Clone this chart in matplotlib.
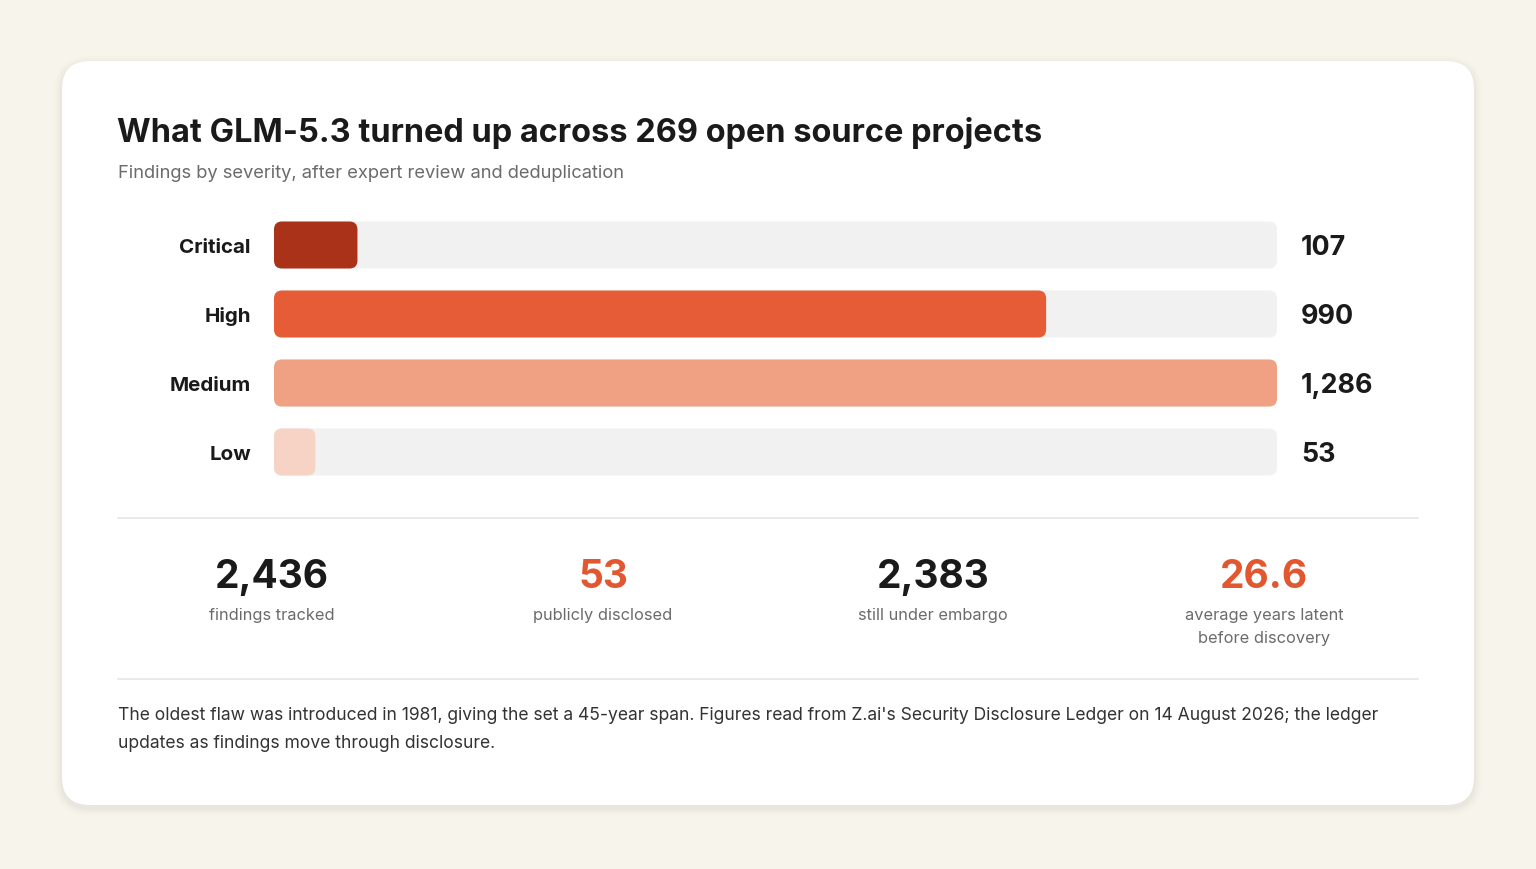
import matplotlib
matplotlib.use("Agg")
import matplotlib.pyplot as plt
from matplotlib.patches import FancyBboxPatch

plt.rcParams['font.family'] = ['Inter', 'DejaVu Sans']

# data
categories = ["Critical", "High", "Medium", "Low"]
counts = [107, 990, 1286, 53]
bar_colors = ["#a93218", "#e65c36", "#f0a184", "#f7d3c6"]

stat_values = ["2,436", "53", "2,383", "26.6"]
stat_labels = [["findings tracked"], ["publicly disclosed"], ["still under embargo"],
               ["average years latent", "before discovery"]]
stat_colors = ["#1a1a1a", "#e2572f", "#1a1a1a", "#e2572f"]

title = "What GLM-5.3 turned up across 269 open source projects"
subtitle = "Findings by severity, after expert review and deduplication"
footnote = ["The oldest flaw was introduced in 1981, giving the set a 45-year span. Figures read from "
            "Z.ai's Security Disclosure Ledger on 14 August 2026; the ledger",
            "updates as findings move through disclosure."]

W, H = 1536, 870
fig = plt.figure(figsize=(W / 100, H / 100), dpi=100)
fig.patch.set_facecolor("#f7f4ec")

# background axes in pixel coords (y down)
bg = fig.add_axes([0, 0, 1, 1])
bg.set_xlim(0, W)
bg.set_ylim(H, 0)
bg.axis("off")

# soft shadow + card
for i, a in enumerate([0.018, 0.014, 0.010, 0.007]):
    g = 2 + i * 2
    bg.add_patch(FancyBboxPatch((62 - g, 62 - g + 3), 1412 + 2 * g, 744 + 2 * g,
                                boxstyle="round,pad=0,rounding_size=%d" % (28 + g),
                                fc="#000000", ec="none", alpha=a))
bg.add_patch(FancyBboxPatch((62, 62), 1412, 744, boxstyle="round,pad=0,rounding_size=28",
                            fc="white", ec="none"))

bg.text(117, 133, title, fontsize=23.4, fontweight="bold", color="#1a1a1a", va="center", ha="left")
bg.text(118, 174, subtitle, fontsize=13.2, color="#6b6b6b", va="center", ha="left")

# separators
bg.plot([118, 1418], [519, 519], color="#e6e6e6", lw=1.2)
bg.plot([118, 1418], [680, 680], color="#e6e6e6", lw=1.2)

# stats
stat_x = [272, 603, 933, 1264]
for x, v, lines, c in zip(stat_x, stat_values, stat_labels, stat_colors):
    bg.text(x, 578, v, fontsize=28, fontweight="bold", color=c, ha="center", va="center")
    for k, line in enumerate(lines):
        bg.text(x, 616 + 23 * k, line, fontsize=11.8, color="#6b6b6b", ha="center", va="center")

for k, line in enumerate(footnote):
    bg.text(118, 716 + 28 * k, line, fontsize=12.6, color="#333333", ha="left", va="center")

# bar axes
left, right = 274, 1277
top, bottom = 246 - 34.5, 453 + 34.5
ax = fig.add_axes([left / W, 1 - bottom / H, (right - left) / W, (bottom - top) / H])
ax.set_xlim(0, max(counts))
ax.set_ylim(len(categories) - 0.5, -0.5)
ax.axis("off")
ax.patch.set_alpha(0)

bh = 47 / 69
px_per_x = (right - left) / max(counts)
rad_px = 8
rs = rad_px / px_per_x
aspect = (rad_px / 69) / rs
for i, (cat, n, col) in enumerate(zip(categories, counts, bar_colors)):
    ax.add_patch(FancyBboxPatch((0, i - bh / 2), max(counts), bh,
                                boxstyle="round,pad=0,rounding_size=%f" % rs,
                                mutation_aspect=aspect, fc="#f1f1f1", ec="none"))
    ax.add_patch(FancyBboxPatch((0, i - bh / 2), n, bh,
                                boxstyle="round,pad=0,rounding_size=%f" % rs,
                                mutation_aspect=aspect, fc=col, ec="none"))
    ax.annotate(cat, xy=(0, i), xycoords=("axes fraction", "data"),
                xytext=(-23, -2), textcoords="offset pixels",
                ha="right", va="center", fontsize=14.8, fontweight="bold", color="#1a1a1a")
    ax.annotate(f"{n:,}", xy=(1, i), xycoords=("axes fraction", "data"),
                xytext=(24, -2), textcoords="offset pixels",
                ha="left", va="center", fontsize=19.3, fontweight="bold", color="#1a1a1a")

fig.savefig("out.png", dpi=100, facecolor=fig.get_facecolor())
